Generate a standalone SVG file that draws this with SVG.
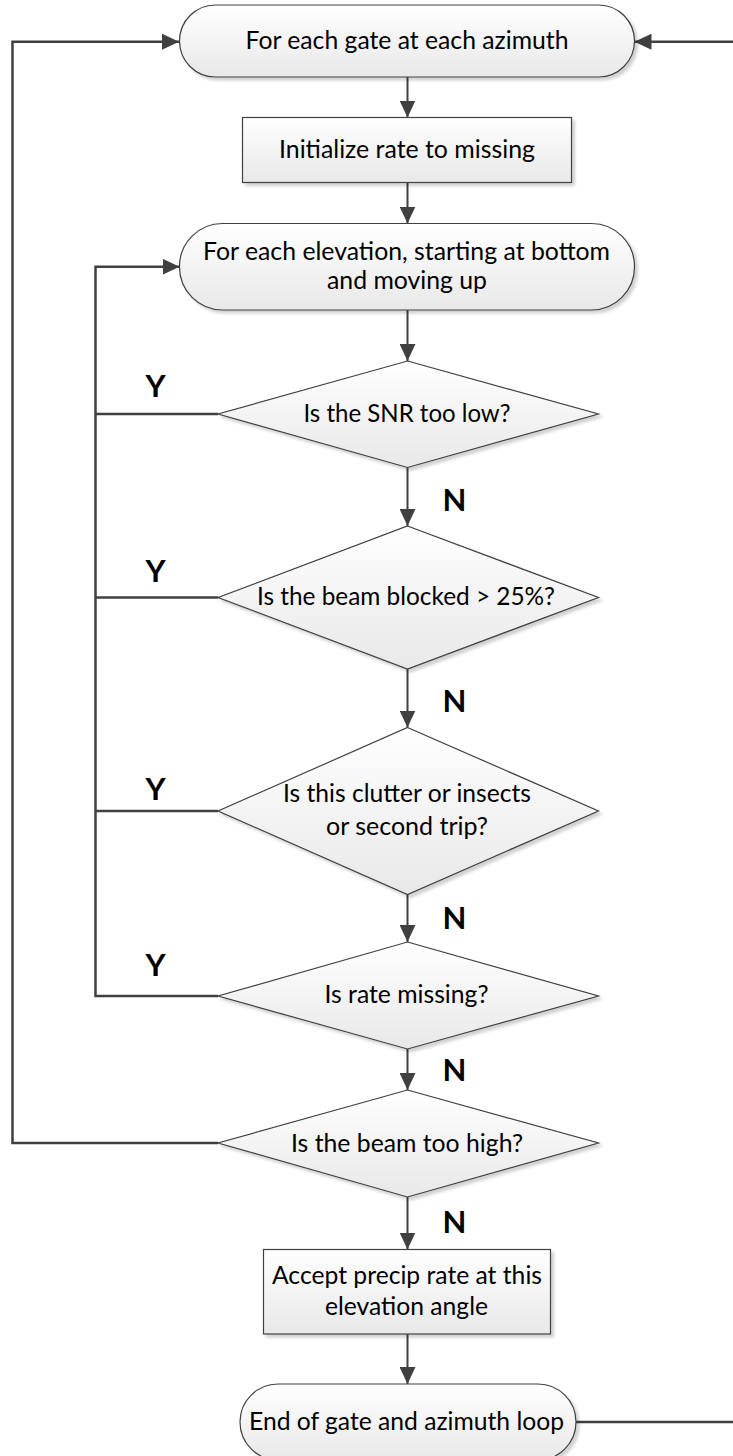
<svg xmlns="http://www.w3.org/2000/svg" width="733" height="1456" viewBox="0 0 733 1456">
  <style>
    .shape { fill: url(#shapeFill); stroke: #404040; stroke-width: 1.2; filter: url(#shadow); }
    .txt { font-family: Lato, "Noto Sans", sans-serif; font-size: 24.5px; fill: #000; text-anchor: middle; }
    .lbl { font-family: Lato, "Noto Sans", sans-serif; font-size: 31px; font-weight: bold; fill: #000; text-anchor: middle; }
    .flow { fill: none; stroke: #404040; stroke-width: 2; }
    .loop { fill: none; stroke: #404040; stroke-width: 2.5; }
  </style>
  <defs>
    <linearGradient id="shapeFill" x1="0" y1="0" x2="0" y2="1">
      <stop offset="0" stop-color="#ffffff"/>
      <stop offset="1" stop-color="#e8e8e8"/>
    </linearGradient>
    <filter id="shadow" x="-10%" y="-10%" width="120%" height="130%">
      <feDropShadow dx="3" dy="3" stdDeviation="1.5" flood-color="#000" flood-opacity="0.18"/>
    </filter>
    <marker id="arrow" viewBox="0 0 17 16" refX="17" refY="8" markerWidth="17" markerHeight="16" markerUnits="userSpaceOnUse" orient="auto">
      <path d="M0,0 L17,8 L0,16 z" fill="#404040"/>
    </marker>
  </defs>

  <rect width="733" height="1456" fill="#ffffff"/>

  <!-- connectors -->
  <g id="connectors">
    <!-- main downward flow -->
    <line class="flow" x1="407.5" y1="77" x2="407.5" y2="117.5" marker-end="url(#arrow)"/>
    <line class="flow" x1="407.5" y1="182" x2="407.5" y2="223.5" marker-end="url(#arrow)"/>
    <line class="flow" x1="407.5" y1="310" x2="407.5" y2="361" marker-end="url(#arrow)"/>
    <line class="flow" x1="407.5" y1="467.5" x2="407.5" y2="526" marker-end="url(#arrow)"/>
    <line class="flow" x1="407.5" y1="669" x2="407.5" y2="727.5" marker-end="url(#arrow)"/>
    <line class="flow" x1="407.5" y1="894.5" x2="407.5" y2="942" marker-end="url(#arrow)"/>
    <line class="flow" x1="407.5" y1="1049" x2="407.5" y2="1090" marker-end="url(#arrow)"/>
    <line class="flow" x1="407.5" y1="1197" x2="407.5" y2="1249.5" marker-end="url(#arrow)"/>
    <line class="flow" x1="407.5" y1="1334" x2="407.5" y2="1384" marker-end="url(#arrow)"/>

    <!-- "Y" branches back to the elevation loop -->
    <polyline class="loop" points="218,414 95.5,414"/>
    <polyline class="loop" points="218,597.5 95.5,597.5"/>
    <polyline class="loop" points="218,811 95.5,811"/>
    <path class="loop" d="M218,996 H95.5 V266.7 H179.5" marker-end="url(#arrow)"/>

    <!-- beam too high: back to the gate/azimuth loop -->
    <path class="loop" d="M218,1143 H12.5 V41.7 H179" marker-end="url(#arrow)"/>

    <!-- end of loop returns to the top -->
    <line class="loop" x1="733" y1="41.7" x2="634.5" y2="41.7" marker-end="url(#arrow)"/>
    <line class="loop" x1="576" y1="1422" x2="733" y2="1422"/>
  </g>

  <!-- nodes -->
  <g id="start-gate-loop">
    <rect class="shape" x="179.5" y="5" width="455" height="72" rx="36" ry="36"/>
    <text class="txt" x="407" y="49" textLength="323" lengthAdjust="spacingAndGlyphs">For each gate at each azimuth</text>
  </g>

  <g id="init-rate">
    <rect class="shape" x="242.5" y="117.5" width="329" height="65"/>
    <text class="txt" x="407" y="158" textLength="256" lengthAdjust="spacingAndGlyphs">Initialize rate to missing</text>
  </g>

  <g id="start-elevation-loop">
    <rect class="shape" x="179.5" y="223.5" width="455" height="86.5" rx="43" ry="43"/>
    <text class="txt" x="406.5" y="260" textLength="407" lengthAdjust="spacingAndGlyphs">For each elevation, starting at bottom</text>
    <text class="txt" x="407" y="289" textLength="160" lengthAdjust="spacingAndGlyphs">and moving up</text>
  </g>

  <g id="check-snr">
    <polygon class="shape" points="407.5,361 598.5,414 407.5,467.5 218,414"/>
    <text class="txt" x="407" y="421.5" textLength="207" lengthAdjust="spacingAndGlyphs">Is the SNR too low?</text>
  </g>

  <g id="check-blockage">
    <polygon class="shape" points="407.5,526 598.5,597.5 407.5,669 218,597.5"/>
    <text class="txt" x="406" y="605" textLength="298" lengthAdjust="spacingAndGlyphs">Is the beam blocked &gt; 25%?</text>
  </g>

  <g id="check-clutter">
    <polygon class="shape" points="407.5,727.5 598.5,811 407.5,894.5 218,811"/>
    <text class="txt" x="407" y="801.5" textLength="248" lengthAdjust="spacingAndGlyphs">Is this clutter or insects</text>
    <text class="txt" x="407" y="835" textLength="162" lengthAdjust="spacingAndGlyphs">or second trip?</text>
  </g>

  <g id="check-missing">
    <polygon class="shape" points="407.5,942 598.5,996 407.5,1049 218,996"/>
    <text class="txt" x="406.5" y="1003" textLength="164" lengthAdjust="spacingAndGlyphs">Is rate missing?</text>
  </g>

  <g id="check-height">
    <polygon class="shape" points="407.5,1090 598.5,1143 407.5,1197 218,1143"/>
    <text class="txt" x="407" y="1151.5" textLength="232" lengthAdjust="spacingAndGlyphs">Is the beam too high?</text>
  </g>

  <g id="accept-rate">
    <rect class="shape" x="263.5" y="1249.5" width="287" height="84.5"/>
    <text class="txt" x="407" y="1284" textLength="270" lengthAdjust="spacingAndGlyphs">Accept precip rate at this</text>
    <text class="txt" x="406.5" y="1315" textLength="163" lengthAdjust="spacingAndGlyphs">elevation angle</text>
  </g>

  <g id="end-gate-loop">
    <rect class="shape" x="240" y="1384" width="336" height="76" rx="38" ry="38"/>
    <text class="txt" x="406.5" y="1430" textLength="315" lengthAdjust="spacingAndGlyphs">End of gate and azimuth loop</text>
  </g>

  <!-- branch labels -->
  <g id="labels">
    <text class="lbl" x="155.5" y="397">Y</text>
    <text class="lbl" x="155.5" y="582">Y</text>
    <text class="lbl" x="155.5" y="800">Y</text>
    <text class="lbl" x="155.5" y="976">Y</text>
    <text class="lbl" x="454.5" y="510.5">N</text>
    <text class="lbl" x="454.5" y="711.5">N</text>
    <text class="lbl" x="454.5" y="929">N</text>
    <text class="lbl" x="454.5" y="1080.5">N</text>
    <text class="lbl" x="454.5" y="1233">N</text>
  </g>
</svg>
